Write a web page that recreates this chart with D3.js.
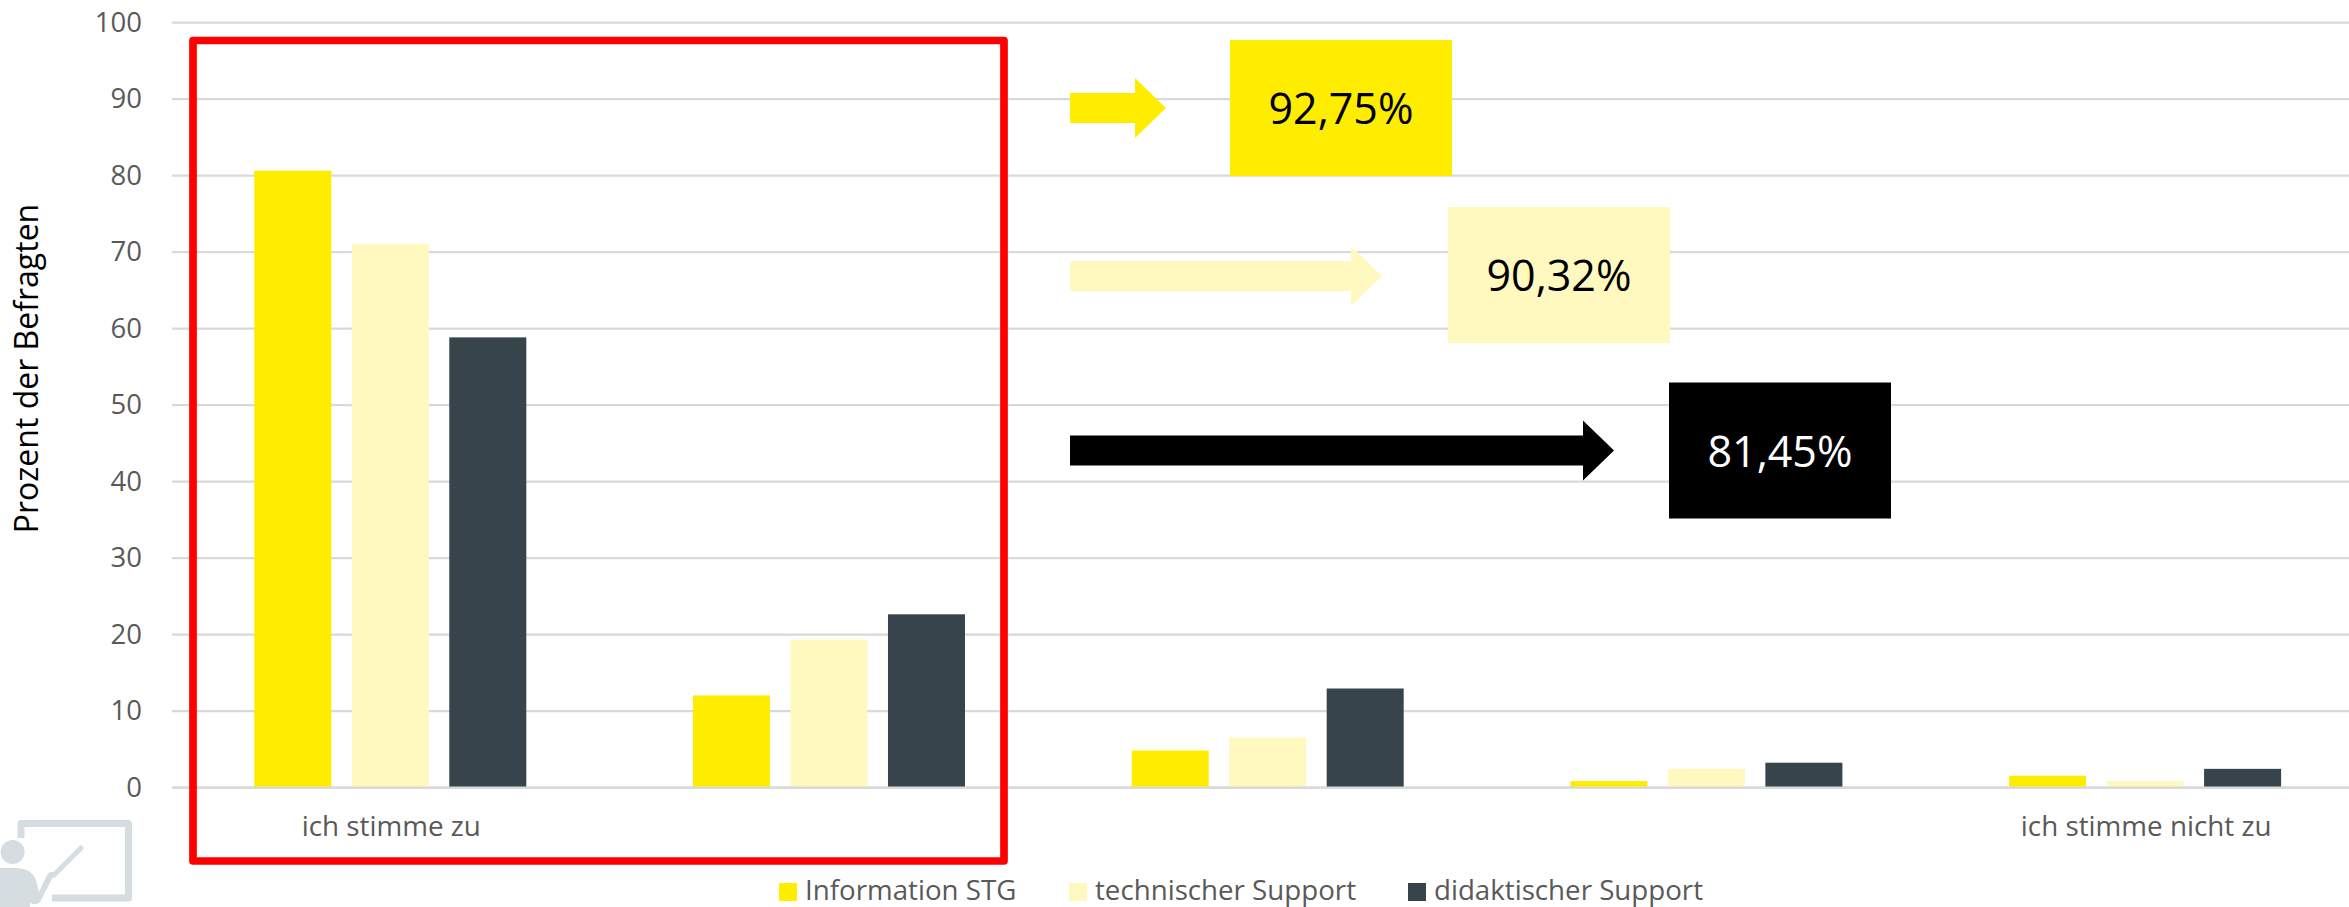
<!DOCTYPE html>
<html><head><meta charset="utf-8">
<script src="https://cdn.jsdelivr.net/npm/d3@7"></script>
<style>
html,body{margin:0;padding:0;background:#fff;overflow:hidden}
svg{display:block;font-family:"Open Sans",sans-serif}
.tick line{stroke:#d9d9d9;stroke-width:2.2}
.domain{display:none}
</style></head><body>
<svg id="c" width="2349" height="907"></svg>
<script>
const categories = ["ich stimme zu", "", "", "", "ich stimme nicht zu"];
const seriesNames = ["Information STG", "technischer Support", "didaktischer Support"];
const seriesColors = ["#FFED00", "#FFF9C0", "#37444B"];
const informationSTG = [80.6, 12.0, 4.8, 0.8, 1.5];
const technischerSupport = [71.0, 19.3, 6.5, 2.4, 0.8];
const didaktischerSupport = [58.8, 22.6, 12.9, 3.2, 2.4];
const yTicks = [0, 10, 20, 30, 40, 50, 60, 70, 80, 90, 100];
const calloutLabels = ["92,75%", "90,32%", "81,45%"];
const calloutText = ["#000000", "#000000", "#FFFFFF"];
const calloutFill = ["#FFED00", "#FFF9C0", "#000000"];
const allSeries = [informationSTG, technischerSupport, didaktischerSupport];

const svg = d3.select("#c");
const y = d3.scaleLinear().domain([0, 100]).range([787.2, 22.2]);
const x0 = d3.scaleBand().domain(d3.range(categories.length)).range([172, 2365.5]);
const x1 = d3.scaleBand().domain(d3.range(seriesNames.length)).range([82.3, 354.3]).paddingInner(0.21);

// y axis and gridlines
const gy = svg.append("g").attr("transform", "translate(172,0)")
  .call(d3.axisLeft(y).tickValues(yTicks).tickSize(-2195).tickPadding(30));
gy.selectAll("text").attr("font-size", 27.5).attr("fill", "#595959").attr("font-family", '"Open Sans",sans-serif');

// x axis labels
const gx = svg.append("g").attr("transform", "translate(0,787.2)")
  .call(d3.axisBottom(x0).tickSize(0).tickPadding(29).tickFormat(i => categories[i]));
gx.selectAll("text").attr("font-size", 27.8).attr("fill", "#595959").attr("font-family", '"Open Sans",sans-serif');

// bars
const groups = svg.append("g").selectAll("g").data(allSeries).join("g").attr("fill", (d, i) => seriesColors[i]);
groups.each(function (vals, s) {
  d3.select(this).selectAll("rect").data(vals).join("rect")
    .attr("x", (d, i) => x0(i) + x1(s))
    .attr("width", x1.bandwidth())
    .attr("y", d => y(d))
    .attr("height", d => y(0) - y(d));
});

// baseline above the bars
svg.append("line").attr("x1", 172).attr("x2", 2349).attr("y1", y(0) + 0.5).attr("y2", y(0) + 0.5)
  .attr("stroke", "#d9d9d9").attr("stroke-width", 2.2);

// y title
svg.append("text").attr("transform", "translate(38,368.5) rotate(-90)")
  .attr("text-anchor", "middle").attr("font-size", 32).attr("fill", "#000").text("Prozent der Befragten");

// red highlight
svg.append("rect").attr("x", 193).attr("y", 40.5).attr("width", 811).attr("height", 820.5)
  .attr("fill", "none").attr("stroke", "#FF0000").attr("stroke-width", 7.7).attr("stroke-linejoin", "round");

// arrows and callouts
const arrowEnds = [1166, 1382, 1614];
const arrowMid = [108, 276, 450.5];
const boxX = [1230, 1448, 1669];
const boxY = [40, 207, 382.5];
calloutLabels.forEach((label, i) => {
  const e = arrowEnds[i], m = arrowMid[i], h = e - 31;
  svg.append("path").attr("fill", calloutFill[i])
    .attr("d", `M1070,${m - 15}H${h}V${m - 30}L${e},${m}L${h},${m + 30}V${m + 15}H1070Z`);
  svg.append("rect").attr("x", boxX[i]).attr("y", boxY[i]).attr("width", 222).attr("height", 136).attr("fill", calloutFill[i]);
  svg.append("text").attr("x", boxX[i] + 111).attr("y", boxY[i] + 84).attr("text-anchor", "middle")
    .attr("font-size", 43).attr("fill", calloutText[i]).text(label);
});

// legend
const legendSwatch = [779, 1069, 1408];
seriesNames.forEach((n, i) => {
  svg.append("rect").attr("x", legendSwatch[i]).attr("y", 883).attr("width", 18).attr("height", 18).attr("fill", seriesColors[i]);
  svg.append("text").attr("x", legendSwatch[i] + 26).attr("y", 900).attr("font-size", 27.7).attr("fill", "#595959").text(n);
});

// presenter icon
const ic = svg.append("g").attr("fill", "#D5DDE0");
ic.append("path").attr("fill", "none").attr("stroke", "#D5DDE0").attr("stroke-width", 7).attr("stroke-linejoin", "round")
  .attr("d", "M21,838V823.5H128.5V898H52");
ic.append("circle").attr("cx", 12.6).attr("cy", 852).attr("r", 12);
ic.append("path").attr("d", "M0,868H14Q32,868 36,880L39,892L47,875Q50,870 55,873L40,902Q36,906 30,903V907H0Z");
ic.append("path").attr("fill", "none").attr("stroke", "#D5DDE0").attr("stroke-width", 5).attr("stroke-linecap", "round")
  .attr("d", "M54,875L81,848");
</script>
</body></html>
